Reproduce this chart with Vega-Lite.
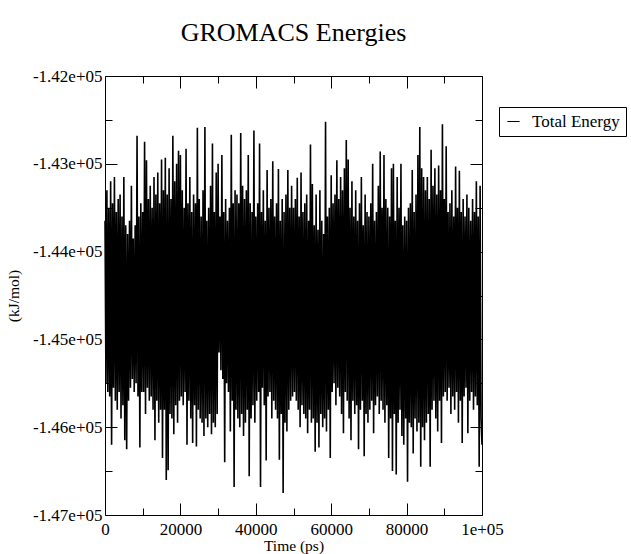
{
"$schema": "https://vega.github.io/schema/vega-lite/v6.json",
"width": 377, "height": 439,
"autosize": "none",
"padding": {"left": 105, "top": 76, "right": 149, "bottom": 39},
"background": "white",
"title": {"text": "GROMACS Energies", "font": "Liberation Serif", "fontSize": 26, "fontWeight": "normal", "color": "black", "anchor": "middle", "frame": "group", "baseline": "alphabetic", "offset": 0},
"data": {"values": [
{"t":0,"E":-143650},{"t":250,"E":-145500},{"t":500,"E":-143300},{"t":750,"E":-145600},{"t":1000,"E":-143500},{"t":1250,"E":-145650},{"t":1500,"E":-143200},{"t":1750,"E":-146200},{"t":2000,"E":-143450},{"t":2250,"E":-145550},{"t":2500,"E":-143150},{"t":2750,"E":-145700},{"t":3000,"E":-143550},{"t":3250,"E":-145800},{"t":3500,"E":-143400},{"t":3750,"E":-145600},{"t":4000,"E":-143350},{"t":4250,"E":-145900},{"t":4500,"E":-143600},{"t":4750,"E":-145750},
{"t":5000,"E":-143150},{"t":5250,"E":-146150},{"t":5500,"E":-143700},{"t":5750,"E":-146250},{"t":6000,"E":-143800},{"t":6250,"E":-145700},{"t":6500,"E":-143650},{"t":6750,"E":-145550},{"t":7000,"E":-143250},{"t":7250,"E":-145450},{"t":7500,"E":-143850},{"t":7750,"E":-145600},{"t":8000,"E":-143700},{"t":8250,"E":-145500},{"t":8500,"E":-142680},{"t":8750,"E":-145650},{"t":9000,"E":-143600},{"t":9250,"E":-146230},{"t":9500,"E":-143450},{"t":9750,"E":-145600},
{"t":10000,"E":-143550},{"t":10250,"E":-145600},{"t":10500,"E":-142750},{"t":10750,"E":-145850},{"t":11000,"E":-142960},{"t":11250,"E":-145550},{"t":11500,"E":-143400},{"t":11750,"E":-145700},{"t":12000,"E":-143250},{"t":12250,"E":-145650},{"t":12500,"E":-143500},{"t":12750,"E":-145800},{"t":13000,"E":-143150},{"t":13250,"E":-146150},{"t":13500,"E":-143350},{"t":13750,"E":-145700},{"t":14000,"E":-143100},{"t":14250,"E":-145950},{"t":14500,"E":-143450},{"t":14750,"E":-145800},
{"t":15000,"E":-142950},{"t":15250,"E":-146350},{"t":15500,"E":-143300},{"t":15750,"E":-145800},{"t":16000,"E":-142930},{"t":16250,"E":-146600},{"t":16500,"E":-143350},{"t":16750,"E":-146490},{"t":17000,"E":-143050},{"t":17250,"E":-145850},{"t":17500,"E":-143400},{"t":17750,"E":-145900},{"t":18000,"E":-142680},{"t":18250,"E":-146080},{"t":18500,"E":-143200},{"t":18750,"E":-145750},{"t":19000,"E":-143000},{"t":19250,"E":-145950},{"t":19500,"E":-142850},{"t":19750,"E":-145700},
{"t":20000,"E":-142900},{"t":20250,"E":-145650},{"t":20500,"E":-143300},{"t":20750,"E":-145750},{"t":21000,"E":-143500},{"t":21250,"E":-145600},{"t":21500,"E":-142830},{"t":21750,"E":-146200},{"t":22000,"E":-143450},{"t":22250,"E":-145700},{"t":22500,"E":-143150},{"t":22750,"E":-145900},{"t":23000,"E":-143550},{"t":23250,"E":-146180},{"t":23500,"E":-143350},{"t":23750,"E":-145750},{"t":24000,"E":-143450},{"t":24250,"E":-146220},{"t":24500,"E":-142590},{"t":24750,"E":-145800},
{"t":25000,"E":-143400},{"t":25250,"E":-145900},{"t":25500,"E":-143600},{"t":25750,"E":-145950},{"t":26000,"E":-143300},{"t":26250,"E":-146100},{"t":26500,"E":-142580},{"t":26750,"E":-145900},{"t":27000,"E":-143650},{"t":27250,"E":-146000},{"t":27500,"E":-143500},{"t":27750,"E":-145850},{"t":28000,"E":-143250},{"t":28250,"E":-146080},{"t":28500,"E":-142770},{"t":28750,"E":-145950},{"t":29000,"E":-143550},{"t":29250,"E":-146000},{"t":29500,"E":-143100},{"t":29750,"E":-145850},
{"t":30000,"E":-143000},{"t":30250,"E":-145150},{"t":30500,"E":-143600},{"t":30750,"E":-145350},{"t":31000,"E":-142900},{"t":31250,"E":-145450},{"t":31500,"E":-143550},{"t":31750,"E":-146400},{"t":32000,"E":-143400},{"t":32250,"E":-145500},{"t":32500,"E":-143650},{"t":32750,"E":-145600},{"t":33000,"E":-143500},{"t":33250,"E":-146050},{"t":33500,"E":-142670},{"t":33750,"E":-145700},{"t":34000,"E":-143450},{"t":34250,"E":-146680},{"t":34500,"E":-143300},{"t":34750,"E":-145800},
{"t":35000,"E":-143350},{"t":35250,"E":-145900},{"t":35500,"E":-143450},{"t":35750,"E":-146000},{"t":36000,"E":-142650},{"t":36250,"E":-145850},{"t":36500,"E":-143250},{"t":36750,"E":-146100},{"t":37000,"E":-143400},{"t":37250,"E":-145950},{"t":37500,"E":-143300},{"t":37750,"E":-145800},{"t":38000,"E":-142900},{"t":38250,"E":-146560},{"t":38500,"E":-143450},{"t":38750,"E":-145900},{"t":39000,"E":-143550},{"t":39250,"E":-145750},{"t":39500,"E":-142620},{"t":39750,"E":-145950},
{"t":40000,"E":-143600},{"t":40250,"E":-145700},{"t":40500,"E":-143450},{"t":40750,"E":-145600},{"t":41000,"E":-142770},{"t":41250,"E":-146680},{"t":41500,"E":-143550},{"t":41750,"E":-145550},{"t":42000,"E":-143300},{"t":42250,"E":-145750},{"t":42500,"E":-143650},{"t":42750,"E":-146380},{"t":43000,"E":-143070},{"t":43250,"E":-145650},{"t":43500,"E":-143500},{"t":43750,"E":-145600},{"t":44000,"E":-143400},{"t":44250,"E":-145900},{"t":44500,"E":-142970},{"t":44750,"E":-145700},
{"t":45000,"E":-143600},{"t":45250,"E":-145800},{"t":45500,"E":-143450},{"t":45750,"E":-145900},{"t":46000,"E":-143060},{"t":46250,"E":-146370},{"t":46500,"E":-143650},{"t":46750,"E":-145850},{"t":47000,"E":-143400},{"t":47250,"E":-146750},{"t":47500,"E":-143550},{"t":47750,"E":-145950},{"t":48000,"E":-143350},{"t":48250,"E":-146050},{"t":48500,"E":-143070},{"t":48750,"E":-145800},{"t":49000,"E":-143500},{"t":49250,"E":-145700},{"t":49500,"E":-143250},{"t":49750,"E":-145650},
{"t":50000,"E":-143500},{"t":50250,"E":-145600},{"t":50500,"E":-143400},{"t":50750,"E":-145700},{"t":51000,"E":-143160},{"t":51250,"E":-145800},{"t":51500,"E":-143600},{"t":51750,"E":-146000},{"t":52000,"E":-143100},{"t":52250,"E":-145750},{"t":52500,"E":-143550},{"t":52750,"E":-145850},{"t":53000,"E":-143450},{"t":53250,"E":-145900},{"t":53500,"E":-143350},{"t":53750,"E":-146070},{"t":54000,"E":-143650},{"t":54250,"E":-145800},{"t":54500,"E":-142780},{"t":54750,"E":-145950},
{"t":55000,"E":-143230},{"t":55250,"E":-145900},{"t":55500,"E":-143700},{"t":55750,"E":-146280},{"t":56000,"E":-143350},{"t":56250,"E":-145950},{"t":56500,"E":-143750},{"t":56750,"E":-146230},{"t":57000,"E":-143300},{"t":57250,"E":-145850},{"t":57500,"E":-143650},{"t":57750,"E":-146000},{"t":58000,"E":-143800},{"t":58250,"E":-145900},{"t":58500,"E":-142520},{"t":58750,"E":-146050},{"t":59000,"E":-143600},{"t":59250,"E":-145800},{"t":59500,"E":-143500},{"t":59750,"E":-146350},
{"t":60000,"E":-143130},{"t":60250,"E":-145600},{"t":60500,"E":-143450},{"t":60750,"E":-145500},{"t":61000,"E":-143350},{"t":61250,"E":-145750},{"t":61500,"E":-142960},{"t":61750,"E":-145550},{"t":62000,"E":-143400},{"t":62250,"E":-145650},{"t":62500,"E":-143150},{"t":62750,"E":-145850},{"t":63000,"E":-143300},{"t":63250,"E":-146070},{"t":63500,"E":-143050},{"t":63750,"E":-145600},{"t":64000,"E":-142730},{"t":64250,"E":-145700},{"t":64500,"E":-142950},{"t":64750,"E":-145900},
{"t":65000,"E":-143500},{"t":65250,"E":-146150},{"t":65500,"E":-143200},{"t":65750,"E":-145700},{"t":66000,"E":-143600},{"t":66250,"E":-145850},{"t":66500,"E":-143300},{"t":66750,"E":-145750},{"t":67000,"E":-143650},{"t":67250,"E":-146250},{"t":67500,"E":-143450},{"t":67750,"E":-145800},{"t":68000,"E":-143150},{"t":68250,"E":-145700},{"t":68500,"E":-143700},{"t":68750,"E":-146330},{"t":69000,"E":-143350},{"t":69250,"E":-145850},{"t":69500,"E":-143550},{"t":69750,"E":-145950},
{"t":70000,"E":-143600},{"t":70250,"E":-145800},{"t":70500,"E":-143450},{"t":70750,"E":-145700},{"t":71000,"E":-143000},{"t":71250,"E":-146070},{"t":71500,"E":-143650},{"t":71750,"E":-145750},{"t":72000,"E":-143550},{"t":72250,"E":-145650},{"t":72500,"E":-143250},{"t":72750,"E":-145850},{"t":73000,"E":-142860},{"t":73250,"E":-145700},{"t":73500,"E":-143500},{"t":73750,"E":-145800},{"t":74000,"E":-142900},{"t":74250,"E":-145950},{"t":74500,"E":-143400},{"t":74750,"E":-145750},
{"t":75000,"E":-143500},{"t":75250,"E":-146350},{"t":75500,"E":-143600},{"t":75750,"E":-145900},{"t":76000,"E":-143050},{"t":76250,"E":-146500},{"t":76500,"E":-143000},{"t":76750,"E":-145850},{"t":77000,"E":-143650},{"t":77250,"E":-146540},{"t":77500,"E":-143150},{"t":77750,"E":-145950},{"t":78000,"E":-143500},{"t":78250,"E":-145800},{"t":78500,"E":-143000},{"t":78750,"E":-146100},{"t":79000,"E":-143700},{"t":79250,"E":-146200},{"t":79500,"E":-143600},{"t":79750,"E":-145900},
{"t":80000,"E":-143650},{"t":80250,"E":-146620},{"t":80500,"E":-143500},{"t":80750,"E":-145950},{"t":81000,"E":-143450},{"t":81250,"E":-146000},{"t":81500,"E":-143070},{"t":81750,"E":-146300},{"t":82000,"E":-143550},{"t":82250,"E":-145900},{"t":82500,"E":-143350},{"t":82750,"E":-146050},{"t":83000,"E":-142900},{"t":83250,"E":-145950},{"t":83500,"E":-142580},{"t":83750,"E":-146450},{"t":84000,"E":-143050},{"t":84250,"E":-146000},{"t":84500,"E":-143150},{"t":84750,"E":-146150},
{"t":85000,"E":-143300},{"t":85250,"E":-145950},{"t":85500,"E":-143150},{"t":85750,"E":-145850},{"t":86000,"E":-143400},{"t":86250,"E":-146450},{"t":86500,"E":-142840},{"t":86750,"E":-145800},{"t":87000,"E":-143250},{"t":87250,"E":-145700},{"t":87500,"E":-143050},{"t":87750,"E":-145900},{"t":88000,"E":-143350},{"t":88250,"E":-146050},{"t":88500,"E":-143020},{"t":88750,"E":-145700},{"t":89000,"E":-143300},{"t":89250,"E":-146180},{"t":89500,"E":-142550},{"t":89750,"E":-145650},
{"t":90000,"E":-143400},{"t":90250,"E":-145600},{"t":90500,"E":-142800},{"t":90750,"E":-145700},{"t":91000,"E":-143550},{"t":91250,"E":-145550},{"t":91500,"E":-143450},{"t":91750,"E":-145850},{"t":92000,"E":-143300},{"t":92250,"E":-145650},{"t":92500,"E":-143600},{"t":92750,"E":-145800},{"t":93000,"E":-143030},{"t":93250,"E":-145600},{"t":93500,"E":-143500},{"t":93750,"E":-145950},{"t":94000,"E":-143080},{"t":94250,"E":-145700},{"t":94500,"E":-143550},{"t":94750,"E":-146180},
{"t":95000,"E":-143400},{"t":95250,"E":-145650},{"t":95500,"E":-143600},{"t":95750,"E":-145550},{"t":96000,"E":-143350},{"t":96250,"E":-146070},{"t":96500,"E":-143500},{"t":96750,"E":-145700},{"t":97000,"E":-143650},{"t":97250,"E":-145600},{"t":97500,"E":-143400},{"t":97750,"E":-145800},{"t":98000,"E":-143550},{"t":98250,"E":-145650},{"t":98500,"E":-143200},{"t":98750,"E":-145750},{"t":99000,"E":-143600},{"t":99250,"E":-146450},{"t":99500,"E":-143250},{"t":99750,"E":-145900},
{"t":100000,"E":-146200}
]},
"layer": [
{"mark": {"type": "line", "strokeWidth": 1.6},
 "encoding": {
  "x": {"field": "t", "type": "quantitative", "scale": {"domain": [0, 100000], "nice": false, "zero": false},
        "axis": {"orient": "bottom", "values": [0, 20000, 40000, 60000, 80000, 100000], "ticks": false, "domain": true, "labelExpr": "datum.value == 100000 ? '1e+05' : format(datum.value, 'd')", "labelFlush": false, "labelOverlap": false, "labelPadding": 6, "title": "Time (ps)", "titlePadding": 1}},
  "y": {"field": "E", "type": "quantitative", "scale": {"domain": [-147000, -142000], "nice": false, "zero": false},
        "axis": {"orient": "left", "values": [-147000, -146000, -145000, -144000, -143000, -142000], "ticks": false, "domain": true, "labelExpr": "'-' + format(abs(datum.value) / 100000, '.2f') + 'e+05'", "labelFlush": false, "labelOverlap": false, "labelPadding": 3, "title": "(kJ/mol)", "titlePadding": 11}},
  "color": {"datum": "Total Energy", "scale": {"range": ["black"]},
        "legend": {"orient": "none", "legendX": 394, "legendY": 31, "title": null, "strokeColor": "black", "fillColor": "white", "padding": 6, "cornerRadius": 0, "labelFont": "Liberation Serif", "labelFontSize": 17, "labelColor": "black", "symbolType": "stroke", "symbolStrokeWidth": 1, "symbolSize": 150, "symbolStrokeColor": "black", "labelOffset": 10}}
 }},
{"mark": {"type": "line", "opacity": 0},
 "encoding": {
  "x": {"field": "t", "type": "quantitative", "scale": {"domain": [0, 100000], "nice": false, "zero": false},
        "axis": {"orient": "bottom", "values": [0, 20000, 40000, 60000, 80000, 100000], "labels": false, "domain": false, "tickSize": -12, "title": null}},
  "y": {"field": "E", "type": "quantitative", "scale": {"domain": [-147000, -142000], "nice": false, "zero": false},
        "axis": {"orient": "left", "values": [-147000, -146000, -145000, -144000, -143000, -142000], "labels": false, "domain": false, "tickSize": -12, "title": null}}
 }},
{"mark": {"type": "line", "opacity": 0},
 "encoding": {
  "x": {"field": "t", "type": "quantitative", "scale": {"domain": [0, 100000], "nice": false, "zero": false},
        "axis": {"orient": "bottom", "values": [10000, 30000, 50000, 70000, 90000], "labels": false, "domain": false, "tickSize": -7, "title": null}},
  "y": {"field": "E", "type": "quantitative", "scale": {"domain": [-147000, -142000], "nice": false, "zero": false},
        "axis": {"orient": "left", "values": [-146500, -145500, -144500, -143500, -142500], "labels": false, "domain": false, "tickSize": -7, "title": null}}
 }},
{"mark": {"type": "line", "opacity": 0},
 "encoding": {
  "x": {"field": "t", "type": "quantitative", "scale": {"domain": [0, 100000], "nice": false, "zero": false},
        "axis": {"orient": "top", "values": [0, 20000, 40000, 60000, 80000, 100000], "labels": false, "domain": true, "tickSize": -12, "title": null}},
  "y": {"field": "E", "type": "quantitative", "scale": {"domain": [-147000, -142000], "nice": false, "zero": false},
        "axis": {"orient": "right", "values": [-147000, -146000, -145000, -144000, -143000, -142000], "labels": false, "domain": true, "tickSize": -12, "title": null}}
 }},
{"mark": {"type": "line", "opacity": 0},
 "encoding": {
  "x": {"field": "t", "type": "quantitative", "scale": {"domain": [0, 100000], "nice": false, "zero": false},
        "axis": {"orient": "top", "values": [10000, 30000, 50000, 70000, 90000], "labels": false, "domain": false, "tickSize": -7, "title": null}},
  "y": {"field": "E", "type": "quantitative", "scale": {"domain": [-147000, -142000], "nice": false, "zero": false},
        "axis": {"orient": "right", "values": [-146500, -145500, -144500, -143500, -142500], "labels": false, "domain": false, "tickSize": -7, "title": null}}
 }}
],
"resolve": {"axis": {"x": "independent", "y": "independent"}},
"config": {
  "view": {"stroke": null},
  "axis": {"grid": false, "domainColor": "black", "tickColor": "black", "labelColor": "black", "titleColor": "black", "labelFont": "Liberation Serif", "titleFont": "Liberation Serif", "labelFontSize": 17, "titleFontSize": 15.5, "titleFontWeight": "normal", "domainWidth": 1, "tickWidth": 1}
}
}
